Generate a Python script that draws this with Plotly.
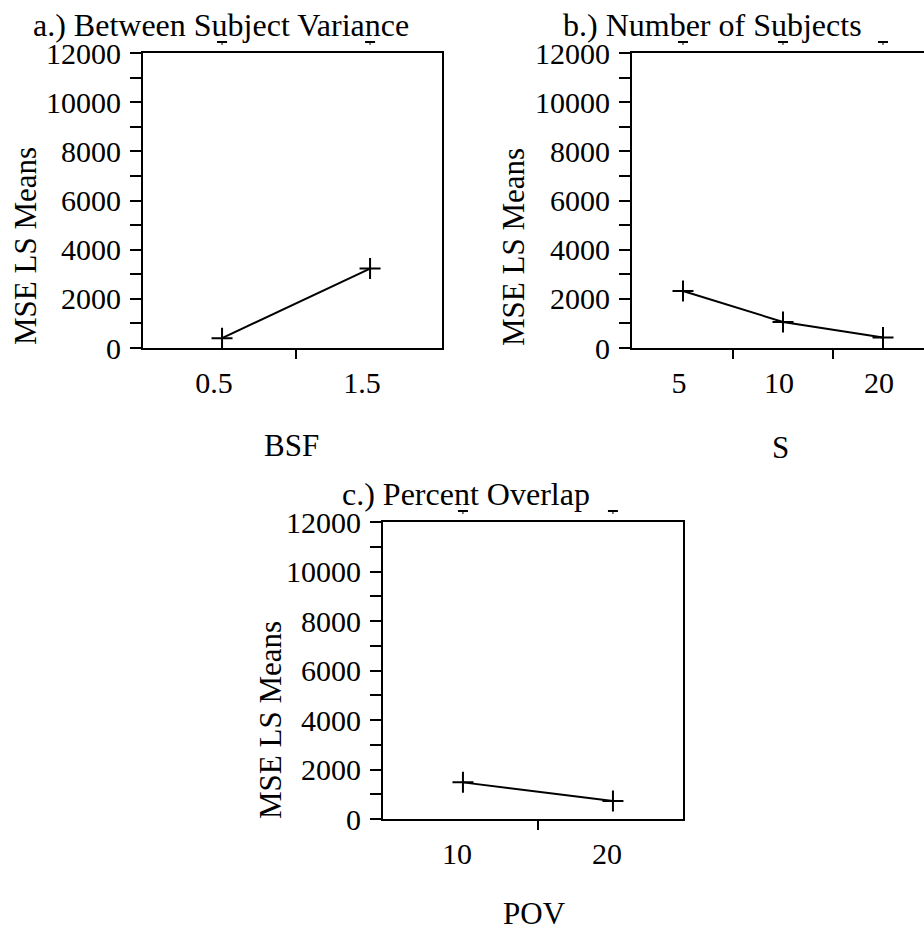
import plotly.graph_objects as go

# ---- data ----
bsf_levels = ["0.5", "1.5"]
bsf_mse = [400, 3230]

s_levels = ["5", "10", "20"]
s_mse = [2320, 1060, 430]

pov_levels = ["10", "20"]
pov_mse = [1480, 730]

titles = ["a.) Between Subject Variance", "b.) Number of Subjects", "c.) Percent Overlap"]
x_titles = ["BSF", "S", "POV"]
y_title = "MSE LS Means"

Y_MAX = 12000
W, H = 924, 930
FONT = "Liberation Serif"


def px(x):
    return x / W


def py(y):
    return 1 - y / H


fig = go.Figure()
shapes = []

panels = [
    # (levels, values, axis id, x-domain px, y-domain px, x range, label shift, right line)
    (bsf_levels, bsf_mse, "", (143, 442), (53, 348), (-0.534, 1.486), -8, True),
    (s_levels, s_mse, "2", (632, 924), (53, 348), (-0.51, 2.41), -4, False),
    (pov_levels, pov_mse, "3", (383, 683), (522, 819), (-0.533, 1.467), -6, True),
]

for levels, vals, ax, xd, yd, xr, shift, right in panels:
    idx = list(range(len(levels)))
    fig.add_trace(go.Scatter(
        x=idx, y=vals, mode="lines+markers",
        xaxis="x" + ax, yaxis="y" + ax,
        line=dict(color="black", width=2),
        marker=dict(symbol="cross-thin", size=15, line=dict(color="black", width=2)),
        showlegend=False, hoverinfo="x+y",
    ))
    # small caps drawn just above the frame in the original
    for i in idx:
        frac = (i - xr[0]) / (xr[1] - xr[0])
        shapes.append(dict(
            type="line", xref=f"x{ax} domain", yref=f"y{ax} domain",
            xsizemode="pixel", xanchor=frac, x0=-5, x1=5,
            ysizemode="pixel", yanchor=1, y0=11, y1=11,
            line=dict(color="black", width=2),
        ))
        shapes.append(dict(
            type="line", xref=f"x{ax} domain", yref=f"y{ax} domain",
            xsizemode="pixel", xanchor=frac, x0=0, x1=0,
            ysizemode="pixel", yanchor=1, y0=11, y1=8,
            line=dict(color="black", width=1),
        ))
    mids = [i + 0.5 for i in idx[:-1]]
    fig.update_layout(**{
        "xaxis" + ax: dict(
            domain=[px(xd[0]), px(xd[1])], range=list(xr), anchor="y" + ax,
            tickmode="array", tickvals=idx, ticktext=levels, ticks="",
            ticklabelshift=shift, ticklabelstandoff=7, automargin=False,
            minor=dict(tickmode="array", tickvals=mids, ticks="outside", ticklen=9,
                       tickwidth=2, tickcolor="black"),
            showline=True, linecolor="black", linewidth=2, mirror=True,
            showgrid=False, zeroline=False,
            tickfont=dict(family=FONT, size=30, color="black"),
        ),
        "yaxis" + ax: dict(
            domain=[py(yd[1]), py(yd[0])], range=[0, Y_MAX], anchor="x" + ax,
            tickmode="linear", tick0=0, dtick=2000, tickformat="d",
            ticks="outside", ticklen=11, automargin=False,
            tickwidth=2, tickcolor="black", ticklabelstandoff=3,
            minor=dict(dtick=1000, ticks="outside", ticklen=11, tickwidth=2,
                       tickcolor="black", showgrid=False),
            showline=True, linecolor="black", linewidth=2, mirror=right,
            showgrid=False, zeroline=False,
            tickfont=dict(family=FONT, size=30, color="black"),
        ),
    })

ann = []
# panel titles
for t, (x, y) in zip(titles, [(221, 25), (712, 25), (466, 494)]):
    ann.append(dict(text=t, x=px(x), y=py(y), xref="paper", yref="paper",
                    xanchor="center", yanchor="middle", showarrow=False,
                    font=dict(family=FONT, size=32, color="black")))
# x titles
for t, (x, y) in zip(x_titles, [(291, 446), (780, 447), (534, 913)]):
    ann.append(dict(text=t, x=px(x), y=py(y), xref="paper", yref="paper",
                    xanchor="center", yanchor="middle", showarrow=False,
                    font=dict(family=FONT, size=31, color="black")))
# y titles
for (x, y) in [(25, 246), (513, 247), (270, 720)]:
    ann.append(dict(text=y_title, x=px(x), y=py(y), xref="paper", yref="paper",
                    xanchor="center", yanchor="middle", showarrow=False, textangle=-90,
                    font=dict(family=FONT, size=31, color="black")))

fig.update_layout(
    template="none",
    width=W, height=H, margin=dict(l=0, r=0, t=0, b=0, autoexpand=False),
    paper_bgcolor="white", plot_bgcolor="white",
    annotations=ann, shapes=shapes, font=dict(family=FONT, color="black"),
)

fig.write_html("out.html", config={"displayModeBar": False},
               post_script="document.body.style.margin='0';")
